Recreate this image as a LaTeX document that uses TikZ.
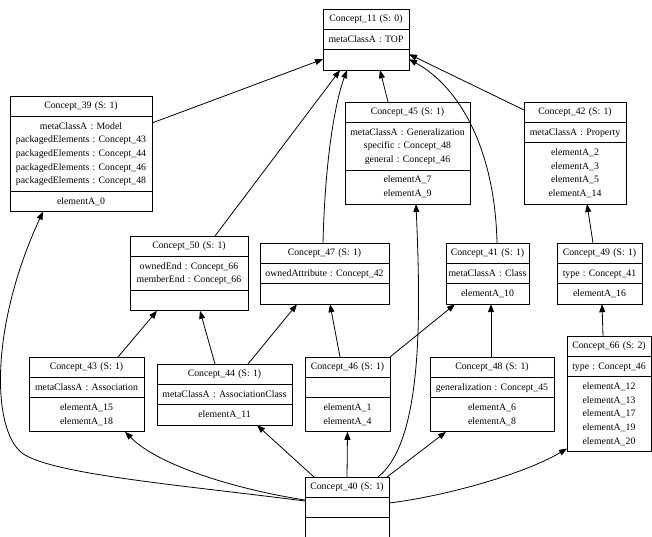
\documentclass[tikz,border=0pt]{standalone}
\usepackage{fontspec}
\setmainfont{Liberation Serif}
\usetikzlibrary{shapes.multipart,arrows.meta}
\newcommand{\cln}[1]{\strut#1\strut}
\frenchspacing

\begin{document}
\begin{tikzpicture}[x=1pt,y=-1pt,line width=0.8pt,>={Triangle[length=8pt,width=6pt]},
  cpt/.style={draw, rectangle split, rectangle split parts=3, anchor=north west, align=center,
    inner xsep=0pt, inner ysep=3pt, outer sep=0pt, font=\fontsize{9.8}{13.6}\selectfont}]
\useasboundingbox (0,0) rectangle (652,537);
\node[cpt, text width=86pt] (c11) at (323,9) {\cln{Concept\_11 (S: 0)}\nodepart{two}\cln{metaClassA : TOP}\nodepart{three}\cln{}};
\node[cpt, text width=142pt] (c39) at (10,96) {\cln{Concept\_39 (S: 1)}\nodepart{two}\cln{metaClassA : Model\\packagedElements : Concept\_43\\packagedElements : Concept\_44\\packagedElements : Concept\_46\\packagedElements : Concept\_48}\nodepart{three}\cln{elementA\_0}};
\node[cpt, text width=125pt] (c45) at (345,102) {\cln{Concept\_45 (S: 1)}\nodepart{two}\cln{metaClassA : Generalization\\specific : Concept\_48\\general : Concept\_46}\nodepart{three}\cln{elementA\_7\\elementA\_9}};
\node[cpt, text width=102pt] (c42) at (524,102) {\cln{Concept\_42 (S: 1)}\nodepart{two}\cln{metaClassA : Property}\nodepart{three}\cln{elementA\_2\\elementA\_3\\elementA\_5\\elementA\_14}};
\draw[->] ([yshift=-27pt]c39.north east) -- ([yshift=11pt]c11.south west);
\draw[->] ([xshift=43pt]c45.north west) -- ([xshift=57pt]c11.south west);
\draw[->] ([yshift=-8pt]c42.north west) -- ([yshift=16pt]c11.south east);
\node[cpt, text width=118pt] (c50) at (130,236) {\cln{Concept\_50 (S: 1)}\nodepart{two}\cln{ownedEnd : Concept\_66\\memberEnd : Concept\_66}\nodepart{three}\cln{}};
\node[cpt, text width=129pt] (c47) at (260,243) {\cln{Concept\_47 (S: 1)}\nodepart{two}\cln{ownedAttribute : Concept\_42}\nodepart{three}\cln{}};
\node[cpt, text width=83pt] (c41) at (446,243) {\cln{Concept\_41 (S: 1)}\nodepart{two}\cln{metaClassA : Class}\nodepart{three}\cln{elementA\_10}};
\node[cpt, text width=85pt] (c49) at (557,243) {\cln{Concept\_49 (S: 1)}\nodepart{two}\cln{type : Concept\_41}\nodepart{three}\cln{elementA\_16}};
\draw[->] ([xshift=85pt]c50.north west) -- ([xshift=17pt]c11.south west);
\draw[->] ([xshift=63pt]c47.north west) .. controls +(2,-83) and +(-12,32) .. ([xshift=24pt]c11.south west);
\draw[->] ([xshift=51pt]c41.north west) .. controls +(-2,-93) and +(51,28) .. ([yshift=11pt]c11.south east);
\draw[->] ([xshift=36pt]c49.north west) -- ([xshift=63pt]c42.south west);
\node[cpt, text width=115pt] (c43) at (29,357) {\cln{Concept\_43 (S: 1)}\nodepart{two}\cln{metaClassA : Association}\nodepart{three}\cln{elementA\_15\\elementA\_18}};
\node[cpt, text width=135pt] (c44) at (157,364) {\cln{Concept\_44 (S: 1)}\nodepart{two}\cln{metaClassA : AssociationClass}\nodepart{three}\cln{elementA\_11}};
\node[cpt, text width=85pt] (c46) at (305,357) {\cln{Concept\_46 (S: 1)}\nodepart{two}\cln{}\nodepart{three}\cln{elementA\_1\\elementA\_4}};
\node[cpt, text width=124pt] (c48) at (430,357) {\cln{Concept\_48 (S: 1)}\nodepart{two}\cln{generalization : Concept\_45}\nodepart{three}\cln{elementA\_6\\elementA\_8}};
\node[cpt, text width=84pt] (c66) at (567,336) {\cln{Concept\_66 (S: 2)}\nodepart{two}\cln{type : Concept\_46}\nodepart{three}\cln{elementA\_12\\elementA\_13\\elementA\_17\\elementA\_19\\elementA\_20}};
\draw[->] ([xshift=89pt]c43.north west) -- ([xshift=27pt]c50.south west);
\draw[->] ([xshift=58pt]c44.north west) -- ([xshift=70pt]c50.south west);
\draw[->] ([xshift=91pt]c44.north west) -- ([xshift=37pt]c47.south west);
\draw[->] ([xshift=35pt]c46.north west) -- ([xshift=70pt]c47.south west);
\draw[->] (c46.north east) -- ([xshift=9pt]c41.south west);
\draw[->] ([xshift=61pt]c48.north west) -- ([xshift=45pt]c41.south west);
\draw[->] ([xshift=36pt]c66.north west) -- ([xshift=45pt]c49.south west);
\node[cpt, text width=84pt] (c40) at (305,477) {\cln{Concept\_40 (S: 1)}\nodepart{two}\cln{}\nodepart{three}\cln{}};
\draw[->] ([yshift=-24pt]c40.north west) .. controls +(-125,-16) and +(35,20) .. (25,455) .. controls +(-33,-19) and +(-55,119) .. ([xshift=33pt]c39.south west);
\draw[->] ([yshift=-23pt]c40.north west) .. controls +(-65,-10) and +(35,35) .. ([xshift=96pt]c43.south west);
\draw[->] ([xshift=9pt]c40.north west) -- ([xshift=100pt]c44.south west);
\draw[->] (c40.north) -- (c46.south);
\draw[->] ([xshift=73pt]c40.north west) .. controls +(47,-37) and +(4,98) .. ([xshift=71pt]c45.south west);
\draw[->] ([xshift=-2pt]c40.north east) -- ([xshift=16pt]c48.south west);
\draw[->] ([yshift=-26pt]c40.north east) .. controls +(51,-6) and +(-46,27) .. ([yshift=3pt]c66.south west);

\end{tikzpicture}
\end{document}
